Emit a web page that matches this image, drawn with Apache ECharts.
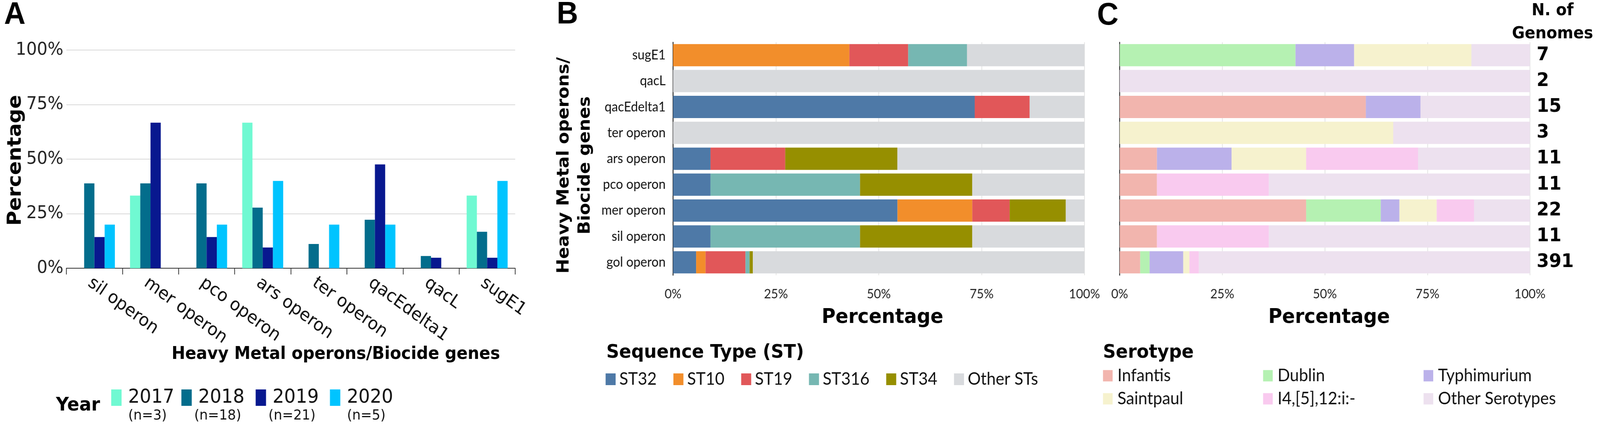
<!DOCTYPE html>
<html>
<head>
<meta charset="utf-8">
<title>Heavy metal operons / biocide genes</title>
<script src="https://cdn.jsdelivr.net/npm/echarts@6.0.0/dist/echarts.min.js"></script>
<style>
  html, body { margin: 0; padding: 0; background: #fff; overflow: hidden; }
  #chart { width: 4317px; height: 1110px; transform-origin: 0 0; }
</style>
</head>
<body>
<div id="chart"></div>
<script>
'use strict';

// Panel A: percentage of genomes per year carrying each operon / gene
const operons = ['sil operon', 'mer operon', 'pco operon', 'ars operon', 'ter operon', 'qacEdelta1', 'qacL', 'sugE1'];
const years = ['2017', '2018', '2019', '2020'];
const yearN = ['(n=3)', '(n=18)', '(n=21)', '(n=5)'];
const y2017 = [0, 33.3, 0, 66.7, 0, 0, 0, 33.3];
const y2018 = [38.9, 38.9, 38.9, 27.8, 11.1, 22.2, 5.6, 16.7];
const y2019 = [14.3, 66.7, 14.3, 9.5, 0, 47.6, 4.8, 4.8];
const y2020 = [20, 0, 20, 40, 20, 20, 0, 40];

// Panels B and C: rows top to bottom
const genes = ['sugE1', 'qacL', 'qacEdelta1', 'ter operon', 'ars operon', 'pco operon', 'mer operon', 'sil operon', 'gol operon'];
const genomeCounts = [7, 2, 15, 3, 11, 11, 22, 11, 391];

// Panel B: sequence types (%)
const stNames = ['ST32', 'ST10', 'ST19', 'ST316', 'ST34', 'Other STs'];
const st32 = [0, 0, 73.33, 0, 9.09, 9.09, 54.55, 9.09, 5.6];
const st10 = [42.86, 0, 0, 0, 0, 0, 18.18, 0, 2.3];
const st19 = [14.29, 0, 13.33, 0, 18.18, 0, 9.09, 0, 9.7];
const st316 = [14.29, 0, 0, 0, 0, 36.36, 0, 36.36, 1.0];
const st34 = [0, 0, 0, 0, 27.27, 27.27, 13.64, 27.27, 0.8];
const stOther = [28.57, 100, 13.33, 100, 45.45, 27.27, 4.55, 27.27, 80.6];

// Panel C: serotypes (%)
const seroNames = ['Infantis', 'Dublin', 'Typhimurium', 'Saintpaul', 'I4,[5],12:i:-', 'Other Serotypes'];
const infantis = [0, 0, 60, 0, 9.09, 9.09, 45.45, 9.09, 5.0];
const dublin = [42.86, 0, 0, 0, 0, 0, 18.18, 0, 2.3];
const typhimurium = [14.29, 0, 13.33, 0, 18.18, 0, 4.55, 0, 8.2];
const saintpaul = [28.57, 0, 0, 66.67, 18.18, 0, 9.09, 0, 1.5];
const i4 = [0, 0, 0, 0, 27.27, 27.27, 9.09, 27.27, 2.3];
const seroOther = [14.29, 100, 26.67, 33.33, 27.27, 63.64, 13.64, 63.64, 80.7];

const yearColors = ['#70f9d2', '#036d8c', '#08188f', '#00c4ff'];
const stColors = ['#4e79a7', '#f28e2b', '#e15759', '#76b7b2', '#968f00', '#d8dadd'];
const seroColors = ['#f2b5ae', '#b5f1b2', '#bbb1ea', '#f6f2ce', '#f9caef', '#ede1ef'];

const SANS = 'DejaVu Sans';
const NARROW = 'Lato';
const PAGE_W = 4317;

(function () {
    const box = document.getElementById('chart');
    // the window may be narrower than the figure: squeeze it horizontally to fit
    const sx = Math.min(1, window.innerWidth / PAGE_W);
    box.style.transform = 'scaleX(' + sx + ')';

    const chart = echarts.init(box, null, { renderer: 'canvas' });

    const yearValues = [y2017, y2018, y2019, y2020];
    const stValues = [st32, st10, st19, st316, st34, stOther];
    const seroValues = [infantis, dublin, typhimurium, saintpaul, i4, seroOther];

    // percentage axis shared by B and C
    function pctAxis(gridIndex) {
        return {
            type: 'value', gridIndex: gridIndex, min: 0, max: 100, interval: 25,
            axisLine: { show: false }, axisTick: { show: false },
            splitLine: { show: true, lineStyle: { color: '#e3e3e3', width: 2 } },
            axisLabel: { formatter: '{value}%', fontFamily: NARROW, fontSize: 33, color: '#222', margin: 32 }
        };
    }

    // bold caption text
    function caption(x, y, text, size, opts) {
        opts = opts || {};
        return {
            type: 'text', x: x, y: y, rotation: opts.rotation || 0,
            style: {
                text: text, fontFamily: opts.font || SANS, fontWeight: 'bold', fontSize: size,
                fill: '#000', align: opts.align || 'center', verticalAlign: 'middle',
                lineHeight: opts.lineHeight
            }
        };
    }

    const series = [];
    years.forEach((y, i) => {
        series.push({
            name: y, type: 'bar', xAxisIndex: 0, yAxisIndex: 0,
            data: yearValues[i], barGap: '0%', barCategoryGap: '27%',
            itemStyle: { color: yearColors[i] }
        });
    });
    stNames.forEach((n, i) => {
        series.push({
            name: n, type: 'bar', stack: 'st', xAxisIndex: 1, yAxisIndex: 1,
            data: stValues[i], barCategoryGap: '14%',
            itemStyle: { color: stColors[i] }
        });
    });
    seroNames.forEach((n, i) => {
        series.push({
            name: n, type: 'bar', stack: 'sero', xAxisIndex: 2, yAxisIndex: 2,
            data: seroValues[i], barCategoryGap: '14%',
            itemStyle: { color: seroColors[i] }
        });
    });

    // serotype legend: three columns of two
    const seroColumns = [[0, 3], [1, 4], [2, 5]];
    const seroLefts = [2976, 3408, 3841];
    const seroLegends = seroColumns.map((col, k) => ({
        data: col.map(i => seroNames[i]),
        orient: 'vertical', left: seroLefts[k], top: 939, padding: 0,
        itemGap: 15, itemWidth: 26, itemHeight: 29, icon: 'rect', selectedMode: false,
        textStyle: { fontFamily: NARROW, fontSize: 44, lineHeight: 44, color: '#111', padding: [0, 0, 0, 8] }
    }));

    const option = {
        backgroundColor: '#fff',
        animation: false,
        grid: [
            { left: 179, top: 128, width: 1211, height: 558, containLabel: false, outerBoundsMode: 'none' },
            { left: 1816, top: 108, width: 1110, height: 596, containLabel: false, outerBoundsMode: 'none' },
            { left: 3021, top: 108, width: 1107, height: 596, containLabel: false, outerBoundsMode: 'none' }
        ],
        xAxis: [
            {
                type: 'category', gridIndex: 0, data: operons,
                axisLine: { lineStyle: { color: '#333', width: 2 } },
                axisTick: { show: true, length: 16, lineStyle: { color: '#333', width: 2 } },
                axisLabel: {
                    interval: 0, rotate: -35, margin: 15, verticalAlign: 'top',
                    fontFamily: SANS, fontSize: 45, color: '#111'
                },
                splitLine: { show: false }
            },
            pctAxis(1),
            pctAxis(2)
        ],
        yAxis: [
            {
                type: 'value', gridIndex: 0, min: 0, max: 100, interval: 25,
                axisLine: { show: false }, axisTick: { show: false },
                splitLine: { show: true, lineStyle: { color: '#d9d9d9', width: 2 } },
                axisLabel: { formatter: '{value}%', fontFamily: SANS, fontSize: 45, color: '#222', margin: 8 }
            },
            {
                type: 'category', gridIndex: 1, data: genes, inverse: true,
                axisLine: { show: true, lineStyle: { color: '#000', width: 2 } },
                axisTick: { show: false }, splitLine: { show: false },
                axisLabel: { interval: 0, fontFamily: NARROW, fontSize: 34, color: '#111', margin: 20 }
            },
            {
                type: 'category', gridIndex: 2, data: genes, inverse: true,
                axisLine: { show: true, lineStyle: { color: '#000', width: 2 } },
                axisTick: { show: false }, splitLine: { show: false },
                axisLabel: { show: false }
            },
            {
                // number of genomes per row, right of panel C
                type: 'category', gridIndex: 2, position: 'right', inverse: true,
                data: genomeCounts.map(String),
                axisLine: { show: false }, axisTick: { show: false }, splitLine: { show: false },
                axisLabel: { interval: 0, fontFamily: SANS, fontWeight: 'bold', fontSize: 48, color: '#000', margin: 18 }
            }
        ],
        legend: [
            {
                data: years, left: 300, top: 965, padding: 0, orient: 'horizontal',
                itemGap: 19, itemWidth: 28, itemHeight: 42, icon: 'rect', selectedMode: false,
                formatter: name => '{e| }\n{a|' + name + '}\n{b|' + yearN[years.indexOf(name)] + '}',
                textStyle: {
                    width: 150,
                    rich: {
                        e: { fontSize: 10, lineHeight: 46 },
                        a: { fontFamily: SANS, fontSize: 49, lineHeight: 48, align: 'center', color: '#111' },
                        b: { fontFamily: SANS, fontSize: 36, lineHeight: 46, align: 'center', color: '#111', padding: [0, 20, 0, 0] }
                    }
                }
            },
            {
                data: stNames, left: 1634, top: 948, padding: 0, orient: 'horizontal',
                itemGap: 45, itemWidth: 27, itemHeight: 30, icon: 'rect', selectedMode: false,
                textStyle: { fontFamily: NARROW, fontSize: 44, lineHeight: 44, color: '#111', padding: [0, 0, 0, 5] }
            }
        ].concat(seroLegends),
        graphic: [
            caption(11, 39, 'A', 80, { font: 'Liberation Sans', align: 'left' }),
            caption(1502, 38, 'B', 80, { font: 'Liberation Sans', align: 'left' }),
            caption(2960, 41, 'C', 80, { font: 'Liberation Sans', align: 'left' }),
            caption(42, 410, 'Percentage', 52, { rotation: Math.PI / 2 }),
            caption(906, 907, 'Heavy Metal operons/Biocide genes', 44),
            caption(1551, 423, 'Heavy Metal operons/\nBiocide genes', 45, { rotation: Math.PI / 2, lineHeight: 57 }),
            caption(2381, 813, 'Percentage', 51),
            caption(3586, 813, 'Percentage', 51),
            caption(4189, 58, 'N. of\nGenomes', 42, { lineHeight: 59 }),
            caption(151, 1038, 'Year', 48, { align: 'left' }),
            caption(1636, 903, 'Sequence Type (ST)', 48, { align: 'left' }),
            caption(2976, 903, 'Serotype', 48, { align: 'left' })
        ],
        series: series
    };

    chart.setOption(option);
})();
</script>
</body>
</html>
